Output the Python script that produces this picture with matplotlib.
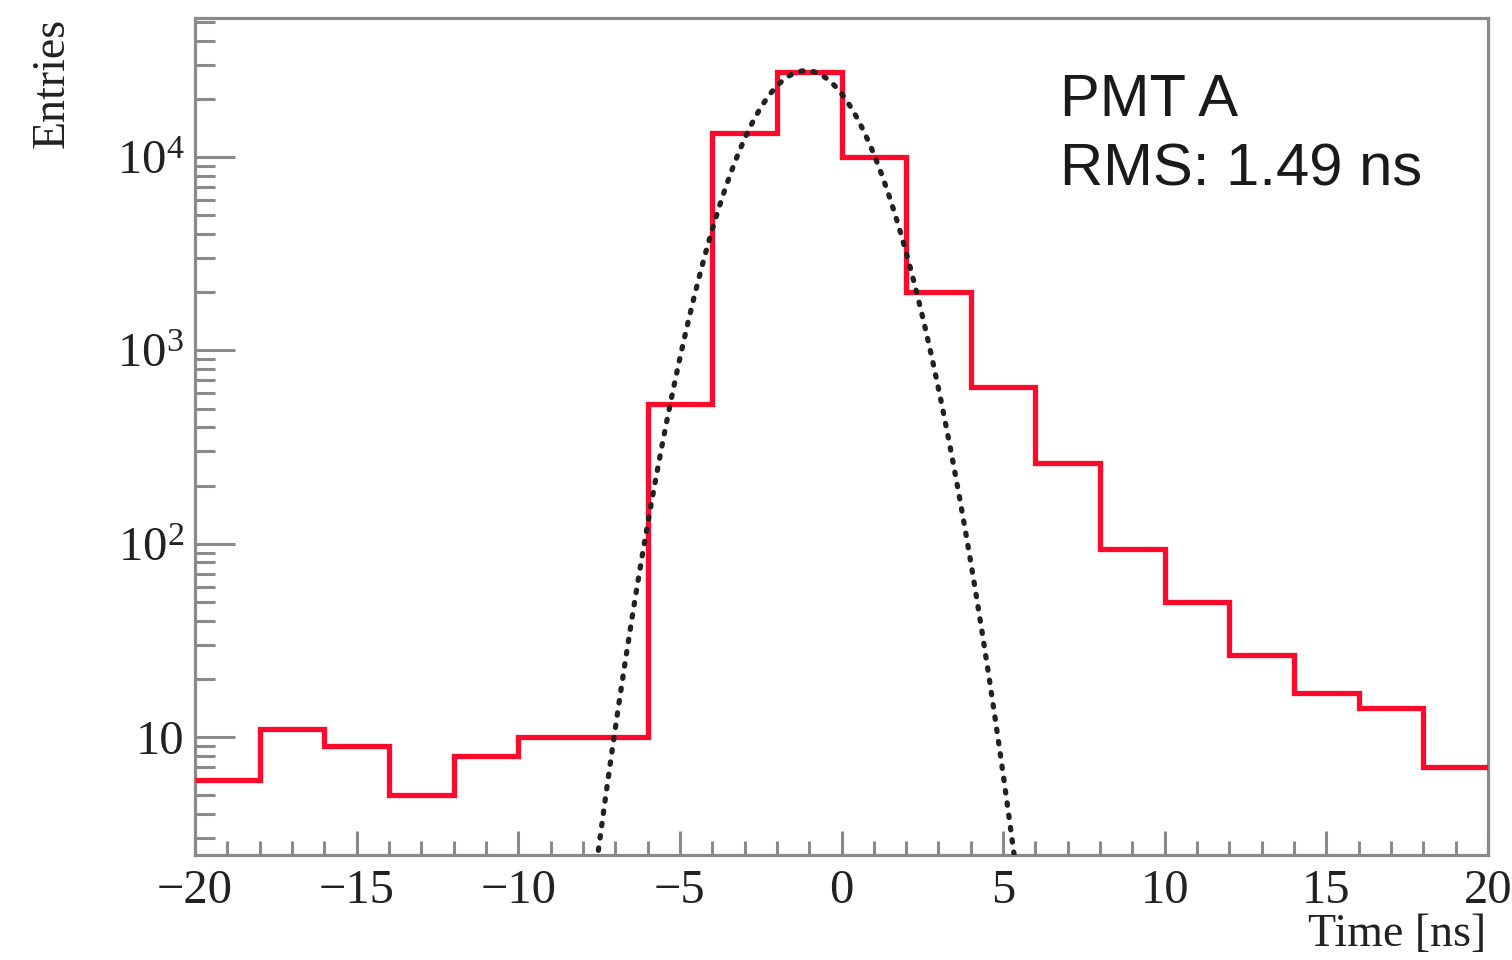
import numpy as np
import matplotlib
matplotlib.use("Agg")
import matplotlib.pyplot as plt
from matplotlib.ticker import FixedLocator, LogLocator, MultipleLocator, NullFormatter, FuncFormatter

# Histogram of hit times (2 ns bins)
bin_edges = np.arange(-20, 21, 2)
counts = [6.0, 11.0, 9.0, 5.0, 8.0, 10.0, 10.0, 530, 13300, 27600,
          10000, 2000, 650, 260, 94, 50, 26.5, 16.8, 14.1, 7.0]

# Gaussian fit parameters
fit_amp = 28000.0
fit_mean = -1.1
fit_sigma = 1.49

label_lines = ["PMT A", "RMS: 1.49 ns"]
x_label = "Time [ns]"
y_label = "Entries"

plt.rcParams['mathtext.fontset'] = 'custom'
plt.rcParams['mathtext.rm'] = 'Liberation Serif'
plt.rcParams['mathtext.it'] = 'Liberation Serif:italic'

frame_col = '#8a8a8a'
fig = plt.figure(figsize=(15.12, 9.6), dpi=100)
ax = fig.add_axes([195/1512, 1-855/960, (1488-195)/1512, (855-18)/960])

ax.stairs(counts, bin_edges, baseline=None, color='#ff0a2c', lw=3.8, zorder=3)

xf = np.linspace(-20, 20, 2000)
yf = fit_amp * np.exp(-0.5 * ((xf - fit_mean) / fit_sigma) ** 2)
ax.plot(xf, yf, color='#222222', lw=3.8, linestyle=(0, (0.45, 1.9)),
        dash_capstyle='round', zorder=4)

ax.set_yscale('log')
ax.set_xlim(-20, 20)
ax.set_ylim(2.45, 52500)

for s in ['left', 'bottom', 'top', 'right']:
    ax.spines[s].set_color(frame_col)
    ax.spines[s].set_linewidth(2.3)

ax.xaxis.set_major_locator(MultipleLocator(5))
ax.xaxis.set_minor_locator(MultipleLocator(1))
ax.xaxis.set_major_formatter(FuncFormatter(lambda v, p: f"{v:.0f}".replace('-', '\u2212')))
ax.yaxis.set_major_locator(FixedLocator([10, 100, 1000, 10000]))
ax.yaxis.set_minor_locator(LogLocator(base=10, subs=np.arange(2, 10), numticks=20))
ax.yaxis.set_minor_formatter(NullFormatter())

def ylab(v, p):
    e = int(round(np.log10(v)))
    return "10" if e == 1 else rf"$10^{{{e}}}$"

ax.yaxis.set_major_formatter(FuncFormatter(ylab))

ax.tick_params(axis='x', which='major', direction='in', length=17, width=2.2,
               color=frame_col, pad=10, labelsize=35, labelcolor='#222222')
ax.tick_params(axis='x', which='minor', direction='in', length=10, width=2.2, color=frame_col)
ax.tick_params(axis='y', which='major', direction='in', length=29, width=2.2,
               color=frame_col, pad=8, labelsize=35, labelcolor='#222222')
ax.tick_params(axis='y', which='minor', direction='in', length=14.5, width=2.2, color=frame_col)
for lab in ax.get_xticklabels() + ax.get_yticklabels():
    lab.set_family('Liberation Serif')

ax.text(1060/1512, 1-100/960, label_lines[0], transform=fig.transFigure,
        family='Liberation Sans', fontsize=43, color='#1a1a1a', va='center', ha='left')
ax.text(1060/1512, 1-170/960, label_lines[1], transform=fig.transFigure,
        family='Liberation Sans', fontsize=43, color='#1a1a1a', va='center', ha='left')

fig.text(1486/1512, 1-935/960, x_label, family='Liberation Serif', fontsize=33,
         color='#222222', ha='right', va='center')
fig.text(52/1512, 1-18/960, y_label, family='Liberation Serif', fontsize=33,
         color='#222222', ha='center', va='top', rotation=90)

fig.savefig('out.png', dpi=100, facecolor='white')
